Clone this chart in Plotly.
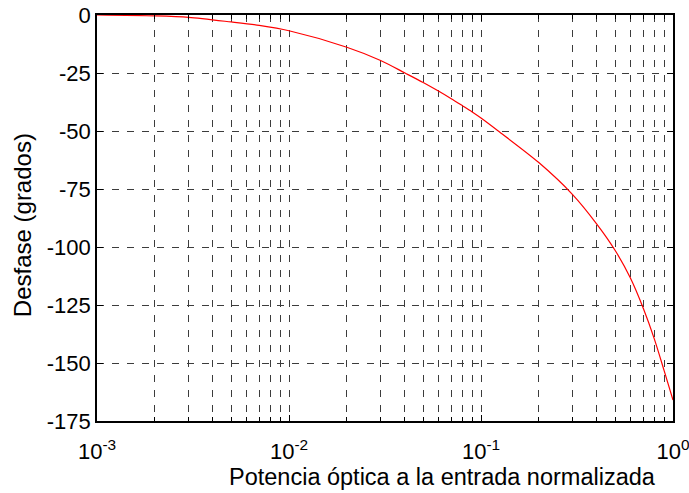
import plotly.graph_objects as go

# Normalised optical input power (log scale) and phase shift in degrees
potencia = [0.001, 0.002, 0.003, 0.005, 0.007, 0.01, 0.02, 0.03, 0.0402, 0.05,
            0.06, 0.07, 0.08, 0.09, 0.1, 0.123, 0.2, 0.3, 0.4, 0.5,
            0.6, 0.7, 0.8, 0.9, 1.0]
desfase = [0.0, -0.4, -1.0, -3.0, -4.5, -6.8, -13.9, -19.6, -25.0, -29.1,
           -32.8, -36.1, -39.1, -41.8, -44.4, -50.0, -63.6, -77.4, -90.0, -101.5,
           -113.4, -126.4, -139.7, -153.4, -166.0]

x_ticks = [0.001, 0.01, 0.1, 1]
x_ticktext = ["10<sup>-3</sup>", "10<sup>-2</sup>", "10<sup>-1</sup>", "10<sup>0</sup>"]
x_minor = [k * 10.0 ** e for e in (-3, -2, -1) for k in range(2, 10)]
y_ticks = [0, -25, -50, -75, -100, -125, -150, -175]
y_ticktext = ["0", "-25", "-50", "-75", "-100", "-125", "-150", "-175"]

xlabel = "Potencia óptica a la entrada normalizada"
ylabel = "Desfase (grados)"

FONT = "Liberation Sans, Arial, sans-serif"
GRID = "rgb(60,60,60)"
DASH = "7px,8px"

fig = go.Figure()
fig.add_trace(go.Scatter(x=potencia, y=desfase, mode="lines",
                         line=dict(color="red", width=1.2, shape="spline", smoothing=0.8),
                         showlegend=False))

fig.update_layout(
    width=689, height=493,
    margin=dict(l=97, r=16, t=15, b=72),
    paper_bgcolor="white", plot_bgcolor="white",
    font=dict(family=FONT, size=22, color="black"),
    xaxis=dict(
        type="log", range=[-3, 0], automargin=False,
        tickvals=x_ticks, ticktext=x_ticktext,
        ticks="inside", ticklen=6, tickcolor="black",
        ticklabelstandoff=10, ticklabeloverflow="allow",
        showline=True, linecolor="black", linewidth=1.5, mirror="ticks",
        showgrid=True, gridcolor=GRID, gridwidth=1, griddash=DASH,
        zeroline=False,
        minor=dict(tickvals=x_minor, ticks="inside", ticklen=4, tickcolor="black",
                   showgrid=True, gridcolor=GRID, gridwidth=1, griddash=DASH),
        tickfont=dict(size=22),
    ),
    yaxis=dict(
        range=[-175, 0], automargin=False,
        tickvals=y_ticks, ticktext=y_ticktext,
        ticks="inside", ticklen=6, tickcolor="black",
        showline=True, linecolor="black", linewidth=1.5, mirror="ticks",
        showgrid=True, gridcolor=GRID, gridwidth=1, griddash=DASH,
        zeroline=False,
        tickfont=dict(size=22),
    ),
)

fig.add_annotation(text=xlabel, xref="paper", yref="paper",
                   x=0.6, y=-0.138, xanchor="center", yanchor="middle",
                   showarrow=False, font=dict(size=23.5))
fig.add_annotation(text=ylabel, xref="paper", yref="paper",
                   x=-0.128, y=0.483, xanchor="center", yanchor="middle",
                   textangle=-90, showarrow=False, font=dict(size=24))

fig.write_html("out.html")
